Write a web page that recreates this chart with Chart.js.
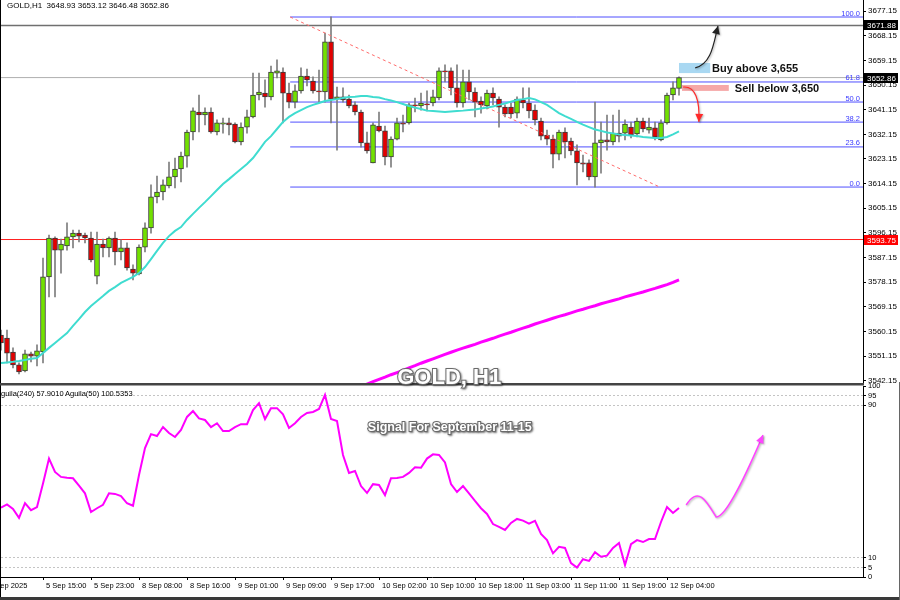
<!DOCTYPE html>
<html>
<head>
<meta charset="utf-8">
<script src="https://cdn.jsdelivr.net/npm/chart.js@4.4.1/dist/chart.umd.min.js"></script>
<style>
  html, body { margin: 0; padding: 0; background: #fff; }
  #wrap { position: relative; width: 900px; height: 600px; overflow: hidden; background: #fff; }
  #price-chart { position: absolute; left: 0; top: 0; z-index: 2; }
  #osc-chart { position: absolute; left: 0; top: 382px; z-index: 1; }
</style>
</head>
<body>
<div id="wrap">
  <canvas id="price-chart" width="900" height="392"></canvas>
  <canvas id="osc-chart" width="900" height="218"></canvas>
</div>
<script>
const FONT = "'Liberation Sans', Arial, sans-serif";

// GOLD H1 candles, bar 0 = 5 Sep 08:00 ... bar 113 = 12 Sep 06:00
const openPrices = [
  3558.9, 3557.8, 3552.7, 3548.0, 3545.8, 3552.0, 3551.2, 3552.7, 3580.1, 3594.3,
  3589.9, 3591.4, 3594.7, 3596.1, 3595.4, 3594.3, 3580.4, 3592.1, 3590.7, 3594.3,
  3589.2, 3590.7, 3583.0, 3581.2, 3591.0, 3598.0, 3609.3, 3611.1, 3613.3, 3616.6,
  3619.5, 3624.2, 3633.0, 3640.3, 3639.2, 3640.3, 3633.0, 3635.9, 3636.3, 3635.9,
  3629.4, 3634.8, 3638.5, 3646.5, 3647.2, 3645.8, 3654.5, 3654.9, 3647.2, 3643.9,
  3648.0, 3653.4, 3651.6, 3648.0, 3647.6, 3665.9, 3645.0, 3645.8, 3645.0, 3642.9,
  3640.3, 3629.0, 3621.7, 3635.2, 3633.4, 3623.9, 3630.4, 3636.3, 3636.3, 3642.9,
  3642.5, 3643.2, 3643.6, 3645.4, 3655.3, 3655.3, 3649.1, 3643.6, 3651.3, 3647.6,
  3644.3, 3642.5, 3647.2, 3645.0, 3642.1, 3642.1, 3639.9, 3644.7, 3643.6, 3641.0,
  3637.0, 3631.9, 3630.4, 3624.9, 3633.0, 3629.7, 3626.1, 3621.7, 3621.7, 3616.6,
  3629.0, 3630.1, 3629.4, 3632.6, 3632.6, 3634.8, 3632.3, 3637.0, 3633.7, 3634.5,
  3630.1, 3636.3, 3646.5, 3648.93
];
const highPrices = [
  3560.7, 3560.7, 3554.2, 3548.7, 3553.4, 3552.7, 3555.3, 3587.0, 3595.4, 3594.7,
  3593.9, 3599.8, 3597.2, 3597.2, 3596.1, 3596.5, 3596.5, 3593.9, 3594.7, 3596.5,
  3593.6, 3592.5, 3584.5, 3591.8, 3599.8, 3613.7, 3616.9, 3615.5, 3622.0, 3623.5,
  3625.7, 3633.7, 3641.8, 3646.5, 3641.8, 3641.8, 3637.4, 3638.1, 3638.1, 3636.3,
  3636.3, 3641.0, 3654.5, 3654.5, 3652.0, 3657.1, 3659.3, 3656.4, 3650.9, 3650.2,
  3656.4, 3656.0, 3653.1, 3655.6, 3669.1, 3675.0, 3649.4, 3649.1, 3646.5, 3644.0,
  3641.0, 3633.0, 3636.3, 3640.3, 3635.2, 3631.2, 3638.1, 3639.2, 3643.6, 3645.4,
  3647.2, 3648.0, 3648.3, 3656.4, 3657.5, 3656.4, 3657.5, 3655.6, 3655.6, 3649.1,
  3645.8, 3648.3, 3649.1, 3645.8, 3642.9, 3643.6, 3645.8, 3649.1, 3649.1, 3642.9,
  3638.1, 3633.7, 3631.9, 3633.7, 3634.5, 3630.8, 3628.3, 3624.6, 3622.8, 3643.9,
  3636.6, 3639.2, 3639.2, 3641.0, 3637.4, 3636.6, 3638.1, 3638.1, 3638.1, 3636.6,
  3637.4, 3647.2, 3651.3, 3653.12
];
const lowPrices = [
  3553.4, 3548.7, 3546.9, 3544.7, 3545.4, 3549.1, 3547.6, 3548.7, 3572.8, 3572.8,
  3581.5, 3589.9, 3590.7, 3592.9, 3592.5, 3585.6, 3577.5, 3587.4, 3587.4, 3584.5,
  3586.3, 3582.6, 3579.0, 3580.8, 3589.2, 3596.1, 3607.1, 3608.2, 3612.6, 3612.6,
  3614.8, 3620.2, 3630.1, 3633.0, 3635.6, 3632.6, 3631.9, 3632.6, 3631.9, 3629.0,
  3628.3, 3632.6, 3638.1, 3644.7, 3642.1, 3644.7, 3652.7, 3636.3, 3641.8, 3641.8,
  3647.2, 3649.8, 3647.2, 3643.6, 3643.9, 3636.3, 3626.4, 3643.9, 3641.8, 3639.2,
  3627.5, 3625.3, 3621.7, 3633.0, 3621.0, 3620.2, 3630.1, 3633.0, 3635.9, 3640.3,
  3641.0, 3640.7, 3642.5, 3644.7, 3651.3, 3646.5, 3642.1, 3642.1, 3644.7, 3638.5,
  3639.9, 3641.4, 3642.9, 3634.8, 3638.5, 3638.1, 3638.1, 3641.8, 3638.1, 3635.6,
  3630.1, 3628.3, 3619.9, 3622.8, 3623.5, 3624.6, 3613.7, 3618.4, 3615.5, 3612.9,
  3618.0, 3626.4, 3628.3, 3629.4, 3630.1, 3630.8, 3631.2, 3633.0, 3632.6, 3630.1,
  3629.7, 3635.9, 3644.7, 3646.48
];
const closePrices = [
  3556.0, 3552.3, 3548.0, 3545.4, 3552.0, 3551.2, 3553.1, 3580.1, 3594.3, 3589.9,
  3592.1, 3594.7, 3596.1, 3595.0, 3594.3, 3586.3, 3592.1, 3590.7, 3594.3, 3589.2,
  3590.7, 3583.4, 3581.5, 3591.0, 3598.0, 3609.3, 3611.1, 3613.7, 3616.6, 3619.5,
  3624.2, 3633.0, 3640.7, 3639.2, 3640.3, 3633.0, 3636.3, 3636.3, 3635.6, 3629.4,
  3634.8, 3638.5, 3646.5, 3647.6, 3645.8, 3654.9, 3655.3, 3647.2, 3643.9, 3648.0,
  3653.4, 3652.0, 3648.0, 3647.6, 3665.9, 3645.0, 3645.8, 3644.7, 3642.5, 3640.3,
  3629.0, 3626.1, 3635.6, 3633.4, 3623.9, 3630.4, 3636.3, 3635.9, 3642.9, 3642.5,
  3643.6, 3642.9, 3645.8, 3655.3, 3654.9, 3649.1, 3643.6, 3651.3, 3647.6, 3643.9,
  3642.9, 3647.2, 3645.4, 3642.1, 3639.6, 3639.6, 3645.0, 3643.6, 3640.7, 3637.4,
  3631.5, 3630.4, 3624.9, 3633.0, 3629.4, 3626.1, 3621.7, 3621.3, 3616.6, 3629.0,
  3630.1, 3629.4, 3632.6, 3631.5, 3635.9, 3631.9, 3637.0, 3634.1, 3634.8, 3631.2,
  3636.3, 3646.5, 3649.1, 3652.86
];

// moving averages drawn on the price panel
const fastMa = [
  3548.7, 3548.9, 3549.1, 3549.4, 3549.8, 3550.2, 3550.5, 3552.3, 3554.2, 3556.0,
  3557.8, 3559.6, 3562.2, 3564.7, 3567.3, 3569.5, 3571.3, 3573.1, 3575.0, 3576.4,
  3577.9, 3579.0, 3580.1, 3581.5, 3583.7, 3586.6, 3589.6, 3592.5, 3595.0, 3596.9,
  3598.3, 3600.9, 3603.1, 3605.3, 3607.4, 3609.6, 3611.8, 3614.0, 3615.8, 3617.7,
  3619.5, 3621.3, 3623.5, 3626.4, 3629.4, 3631.5, 3634.1, 3636.7, 3638.5, 3639.9,
  3641.0, 3642.1, 3642.9, 3643.6, 3644.3, 3644.7, 3645.0, 3645.4, 3645.8, 3645.9,
  3646.1, 3646.1, 3645.8, 3645.6, 3645.0, 3644.5, 3643.9, 3643.2, 3642.5, 3641.9,
  3641.4, 3640.8, 3640.7, 3640.5, 3640.3, 3640.5, 3640.7, 3640.8, 3641.0, 3641.2,
  3641.6, 3641.9, 3642.3, 3642.9, 3643.4, 3644.1, 3644.7, 3645.0, 3645.4, 3644.9,
  3643.9, 3642.9, 3641.4, 3639.9, 3638.8, 3637.8, 3636.7, 3635.7, 3634.8, 3633.9,
  3633.4, 3632.8, 3632.5, 3632.1, 3631.9, 3631.7, 3631.5, 3631.2, 3631.0, 3630.8,
  3630.8, 3631.2, 3632.1, 3633.2
];
const slowMaStart = 60;
const slowMa = [
  3540.1, 3541.0, 3541.9, 3542.7, 3543.5, 3544.4, 3545.2, 3546.0, 3546.9, 3547.7,
  3548.6, 3549.4, 3550.2, 3551.0, 3551.8, 3552.6, 3553.4, 3554.1, 3554.8, 3555.5,
  3556.3, 3557.0, 3557.7, 3558.5, 3559.2, 3559.9, 3560.7, 3561.4, 3562.1, 3562.9,
  3563.6, 3564.3, 3565.0, 3565.7, 3566.3, 3567.0, 3567.7, 3568.3, 3569.0, 3569.6,
  3570.3, 3570.9, 3571.5, 3572.1, 3572.8, 3573.4, 3574.0, 3574.6, 3575.3, 3575.9,
  3576.6, 3577.3, 3578.1, 3579.0
];

// oscillator panel
const aguila = [
  36.3, 38, 35.6, 31, 38.7, 35, 36.6, 49, 62, 55,
  52.4, 52, 51.7, 47.8, 43.8, 34, 36, 37.8, 43.8, 43.5,
  42.4, 38.6, 37.3, 53.4, 67.5, 74.8, 73.8, 78.5, 75.4, 73.3,
  77, 83.8, 86.9, 83, 82.2, 78.5, 80.5, 76.4, 76.4, 78.5,
  80, 80, 87.4, 91, 82.7, 88.4, 88.4, 85.2, 78, 80.5,
  83.8, 85.9, 86.4, 88, 95.3, 82.7, 81.7, 63.9, 54.5, 55.5,
  47.6, 44, 48.6, 48.2, 42.9, 51.7, 51.8, 52.4, 54.5, 57.4,
  57.2, 62, 64.2, 63.9, 60, 48.7, 44.5, 47.6, 43.8, 39.8,
  36, 33, 27.7, 26.2, 24.6, 28.3, 30.4, 29.5, 27.9, 29.4,
  22.5, 19.3, 12.4, 15.8, 15.2, 7.3, 4.9, 9.3, 8.4, 13,
  10.6, 11.2, 15.2, 17.8, 6.3, 17.2, 19.3, 18.3, 19.9, 19.9,
  28.8, 36.6, 33.5, 36.1
];

const priceTicks = [
  3542.15, 3551.15, 3560.15, 3569.15, 3578.15, 3587.15, 3596.15, 3605.15,
  3614.15, 3623.15, 3632.15, 3641.15, 3650.15, 3659.15, 3668.15, 3677.15
];
const oscTicks = [0, 5, 10, 90, 95, 100];
const oscGridLevels = [5, 10, 90, 95];
const timeTickBars = [-2.5, 7, 15, 23, 31, 39, 47, 55, 63, 71, 79, 87, 95, 103, 111];
const timeTickLabels = [
  '5 Sep 2025', '5 Sep 15:00', '5 Sep 23:00', '8 Sep 08:00', '8 Sep 16:00',
  '9 Sep 01:00', '9 Sep 09:00', '9 Sep 17:00', '10 Sep 02:00', '10 Sep 10:00',
  '10 Sep 18:00', '11 Sep 03:00', '11 Sep 11:00', '11 Sep 19:00', '12 Sep 04:00'
];

// fibonacci retracement and horizontal levels
const fibHigh = 3674.97;
const fibLow = 3612.9;
const fibStartBar = 48.2;
const fibRatios = [0, 23.6, 38.2, 50, 61.8, 100];
const trendFrom = [48.2, 3674.97];
const trendTo = [109.8, 3612.9];
const lastPrice = 3652.86;
const resistance = 3671.88;
const support = 3593.75;

// annotation anchors in (bar, price) / (bar, value)
const buyZone = { bars: [113, 118.2], prices: [3654.5, 3658.2], label: 'Buy above 3,655', at: [118.5, 3656.0] };
const sellZone = { bars: [113.5, 121.3], prices: [3648.0, 3650.15], label: 'Sell below 3,650', at: [122.3, 3648.7] };
const buyArrow = [[115.7, 3656.4], [118.5, 3657.8], [118.8, 3665.9], [119.5, 3671.7]];
const sellArrow = [[113.7, 3649.4], [115.7, 3649.8], [116.5, 3644.7], [116.3, 3636.7]];
const oscArrow = [[114.2, 37.7], [116.2, 47.6], [117.5, 40.3], [119.2, 31.4], [121, 31.4], [124.5, 56.0], [127, 74.3]];
const titleAt = [74.7, 3543.2];
const signalAt = [74.8, 78.5];

const header = 'GOLD,H1  3648.93 3653.12 3646.48 3652.86';
const oscHeaders = [['Aguila(240) 57.9010', -4], ['Aguila(50) 100.5353', 65]];

const PRICE_MIN = 3541.38;
const PRICE_MAX = 3680.45;
const BAR_MIN = 0;
const BAR_MAX = 862 / 6;
const AXIS_W = 37;

const bars = openPrices.map((_, i) => i);
const isUp = (i) => closePrices[i] >= openPrices[i];

function toPx(chart, bar, value) {
  return [chart.scales.x.getPixelForValue(bar), chart.scales.y.getPixelForValue(value)];
}

function hLine(y, fromBar, color, width, order) {
  return {
    type: 'line',
    data: [{ x: fromBar, y }, { x: BAR_MAX, y }],
    borderColor: color,
    borderWidth: width,
    pointRadius: 0,
    order
  };
}

function embossText(ctx, text, x, y, size) {
  ctx.save();
  ctx.font = `bold ${size}px ${FONT}`;
  ctx.textAlign = 'center';
  ctx.textBaseline = 'middle';
  ctx.shadowColor = 'rgba(0,0,0,0.55)';
  ctx.shadowBlur = 2;
  ctx.shadowOffsetX = 1;
  ctx.shadowOffsetY = 1;
  ctx.lineWidth = 2;
  ctx.strokeStyle = '#6a6a6a';
  ctx.strokeText(text, x, y);
  ctx.shadowColor = 'transparent';
  ctx.fillStyle = '#fff';
  ctx.fillText(text, x, y);
  ctx.restore();
}

function curvedArrow(chart, path, color, width, shadow) {
  const ctx = chart.ctx;
  const pts = path.map(([b, v]) => toPx(chart, b, v));
  ctx.save();
  if (shadow) {
    ctx.shadowColor = 'rgba(0,0,0,0.3)';
    ctx.shadowBlur = 2;
    ctx.shadowOffsetX = 1;
    ctx.shadowOffsetY = 1;
  }
  ctx.strokeStyle = color;
  ctx.fillStyle = color;
  ctx.lineWidth = width;
  ctx.beginPath();
  ctx.moveTo(pts[0][0], pts[0][1]);
  for (let i = 1; i + 2 < pts.length; i += 3) {
    ctx.bezierCurveTo(pts[i][0], pts[i][1], pts[i + 1][0], pts[i + 1][1], pts[i + 2][0], pts[i + 2][1]);
  }
  ctx.stroke();
  const [ex, ey] = pts[pts.length - 1];
  const [cx, cy] = pts[pts.length - 2];
  const ang = Math.atan2(ey - cy, ex - cx);
  ctx.beginPath();
  ctx.moveTo(ex, ey);
  ctx.lineTo(ex - 8 * Math.cos(ang) + 4 * Math.sin(ang), ey - 8 * Math.sin(ang) - 4 * Math.cos(ang));
  ctx.lineTo(ex - 8 * Math.cos(ang) - 4 * Math.sin(ang), ey - 8 * Math.sin(ang) + 4 * Math.cos(ang));
  ctx.closePath();
  ctx.fill();
  ctx.restore();
}

function priceBox(chart, value, bg) {
  const ctx = chart.ctx;
  const y = chart.scales.y.getPixelForValue(value);
  const x = chart.chartArea.right + 1;
  ctx.fillStyle = bg;
  ctx.fillRect(x, Math.round(y) - 5, 34, 10);
  ctx.fillStyle = '#fff';
  ctx.font = `8px ${FONT}`;
  ctx.textAlign = 'left';
  ctx.textBaseline = 'middle';
  ctx.fillText(value.toFixed(2), x + 3, Math.round(y) + 0.5);
}

const priceDecor = {
  id: 'priceDecor',
  afterDraw(chart) {
    const ctx = chart.ctx;
    const area = chart.chartArea;
    const yScale = chart.scales.y;

    // fib level captions
    ctx.save();
    ctx.font = `7.5px ${FONT}`;
    ctx.fillStyle = '#3a3aff';
    ctx.textAlign = 'right';
    ctx.textBaseline = 'alphabetic';
    fibRatios.forEach((r) => {
      const y = yScale.getPixelForValue(fibLow + (fibHigh - fibLow) * r / 100);
      ctx.fillText(r.toFixed(1), area.right - 3, y - 1.5);
    });
    ctx.restore();

    // buy / sell zones
    [[buyZone, '#a9d8f2'], [sellZone, '#f6a8a8']].forEach(([zone, color]) => {
      const [x1, y1] = toPx(chart, zone.bars[0], zone.prices[1]);
      const [x2, y2] = toPx(chart, zone.bars[1], zone.prices[0]);
      ctx.fillStyle = color;
      ctx.fillRect(x1, y1, x2 - x1, y2 - y1);
      const [tx, ty] = toPx(chart, zone.at[0], zone.at[1]);
      ctx.font = `bold 11px ${FONT}`;
      ctx.fillStyle = '#111';
      ctx.textAlign = 'left';
      ctx.textBaseline = 'middle';
      ctx.fillText(zone.label, tx, ty);
    });
    curvedArrow(chart, buyArrow, '#222', 1.2, true);
    curvedArrow(chart, sellArrow, '#ff2a2a', 1.2, true);

    // panel frame
    ctx.save();
    ctx.strokeStyle = '#000';
    ctx.lineWidth = 1;
    ctx.beginPath();
    ctx.moveTo(0.5, 0);
    ctx.lineTo(0.5, 384);
    ctx.moveTo(area.right + 0.5, 0);
    ctx.lineTo(area.right + 0.5, 384);
    ctx.stroke();
    ctx.strokeStyle = '#444';
    ctx.lineWidth = 2.5;
    ctx.beginPath();
    ctx.moveTo(0, 384.2);
    ctx.lineTo(area.right + 1, 384.2);
    ctx.stroke();
    ctx.restore();

    // axis price boxes
    priceBox(chart, resistance, '#000');
    priceBox(chart, lastPrice, '#000');
    priceBox(chart, support, '#ff0000');

    ctx.font = `8px ${FONT}`;
    ctx.fillStyle = '#000';
    ctx.textAlign = 'left';
    ctx.textBaseline = 'middle';
    ctx.fillText(header, 7, 5.5);

    const [gx, gy] = toPx(chart, titleAt[0], titleAt[1]);
    embossText(ctx, 'GOLD, H1', gx, gy, 22);
  }
};

new Chart(document.getElementById('price-chart'), {
  type: 'bar',
  data: {
    datasets: [
      ...fibRatios.map((r) => hLine(fibLow + (fibHigh - fibLow) * r / 100, fibStartBar, '#4f4fff', 1, 10)),
      hLine(resistance, BAR_MIN, '#707070', 1.5, 10),
      hLine(lastPrice, BAR_MIN, '#b0b0b0', 1, 10),
      hLine(support, BAR_MIN, '#ff2020', 1, 10),
      {
        type: 'bar',
        data: bars.map((i) => ({ x: i, y: [lowPrices[i], highPrices[i]] })),
        backgroundColor: '#7d7d7d',
        barThickness: 1,
        grouped: false,
        borderWidth: 0,
        order: 6
      },
      {
        type: 'bar',
        data: bars.map((i) => ({ x: i, y: [openPrices[i], closePrices[i]] })),
        backgroundColor: bars.map((i) => (isUp(i) ? '#72e000' : '#e20000')),
        borderColor: '#3a3a3a',
        borderWidth: 1,
        borderSkipped: false,
        barThickness: 5,
        minBarLength: 1,
        grouped: false,
        order: 5
      },
      {
        type: 'line',
        data: [{ x: trendFrom[0], y: trendFrom[1] }, { x: trendTo[0], y: trendTo[1] }],
        borderColor: '#ff6a6a',
        borderWidth: 1,
        borderDash: [3, 3],
        pointRadius: 0,
        order: 3
      },
      {
        type: 'line',
        data: slowMa.map((v, i) => ({ x: slowMaStart + i, y: v })),
        borderColor: '#ff00ff',
        borderWidth: 3,
        pointRadius: 0,
        order: 2
      },
      {
        type: 'line',
        data: fastMa.map((v, i) => ({ x: i, y: v })),
        borderColor: '#3fdcd0',
        borderWidth: 2,
        pointRadius: 0,
        order: 1
      }
    ]
  },
  options: {
    responsive: false,
    animation: false,
    events: [],
    layout: { autoPadding: false, padding: { left: 1, top: 2, right: 0, bottom: 9 } },
    plugins: { legend: { display: false }, tooltip: { enabled: false } },
    scales: {
      x: { type: 'linear', display: false, min: BAR_MIN, max: BAR_MAX, offset: false },
      y: {
        type: 'linear',
        position: 'right',
        min: PRICE_MIN,
        max: PRICE_MAX,
        afterBuildTicks: (s) => { s.ticks = priceTicks.map((v) => ({ value: v })); },
        afterFit: (s) => { s.width = AXIS_W; s.paddingTop = 0; s.paddingBottom = 0; },
        grid: { drawOnChartArea: false, tickLength: 3, tickColor: '#000' },
        border: { display: true, color: '#000', width: 1 },
        ticks: {
          autoSkip: false,
          padding: 2,
          color: '#000',
          font: { family: FONT, size: 8 },
          callback: (v) => Number(v).toFixed(2)
        }
      }
    }
  },
  plugins: [priceDecor]
});

const oscDecor = {
  id: 'oscDecor',
  afterDraw(chart) {
    const ctx = chart.ctx;
    ctx.save();
    ctx.font = `7.5px ${FONT}`;
    ctx.fillStyle = '#000';
    ctx.textAlign = 'left';
    ctx.textBaseline = 'middle';
    oscHeaders.forEach(([text, x]) => ctx.fillText(text, x, 11.5));

    const [sx, sy] = toPx(chart, signalAt[0], signalAt[1]);
    embossText(ctx, 'Signal For September 11-15', sx, sy, 12.5);
    curvedArrow(chart, oscArrow, '#ff44ff', 1.5, true);

    ctx.strokeStyle = '#000';
    ctx.lineWidth = 1;
    ctx.beginPath();
    ctx.moveTo(0.5, 0);
    ctx.lineTo(0.5, 218);
    ctx.stroke();
    ctx.fillStyle = '#3a3a3a';
    ctx.fillRect(0, 215, 900, 3);
    ctx.fillStyle = '#666';
    ctx.fillRect(899, 0, 1, 218);
    ctx.restore();
  }
};

new Chart(document.getElementById('osc-chart'), {
  type: 'line',
  data: {
    datasets: [{
      data: aguila.map((v, i) => ({ x: i, y: v })),
      borderColor: '#ff00ff',
      borderWidth: 2,
      pointRadius: 0,
      tension: 0
    }]
  },
  options: {
    responsive: false,
    animation: false,
    events: [],
    layout: { autoPadding: false, padding: { left: 1, top: 4, right: 0, bottom: 0 } },
    plugins: { legend: { display: false }, tooltip: { enabled: false } },
    scales: {
      x: {
        type: 'linear',
        min: BAR_MIN,
        max: BAR_MAX,
        afterBuildTicks: (s) => { s.ticks = timeTickBars.map((v) => ({ value: v })); },
        afterFit: (s) => { s.height = 23; s.paddingLeft = 0; s.paddingRight = 0; },
        grid: { drawOnChartArea: false, tickLength: 3, tickColor: '#000' },
        border: { display: true, color: '#000', width: 1 },
        ticks: {
          autoSkip: false,
          maxRotation: 0,
          align: 'start',
          labelOffset: 3,
          padding: 1,
          color: '#000',
          font: { family: FONT, size: 7.5 },
          callback: (v, i) => timeTickLabels[i]
        }
      },
      y: {
        position: 'right',
        min: 0,
        max: 100,
        afterBuildTicks: (s) => { s.ticks = oscTicks.map((v) => ({ value: v })); },
        afterFit: (s) => { s.width = AXIS_W; s.paddingTop = 0; s.paddingBottom = 0; },
        grid: {
          color: (c) => (c.tick && oscGridLevels.includes(c.tick.value) ? '#c4c4c4' : 'rgba(0,0,0,0)'),
          tickColor: '#000',
          tickLength: 3
        },
        border: { display: true, color: '#000', width: 1, dash: [2, 2] },
        ticks: {
          autoSkip: false,
          padding: 2,
          color: '#000',
          font: { family: FONT, size: 7.5 }
        }
      }
    }
  },
  plugins: [oscDecor]
});
</script>
</body>
</html>
